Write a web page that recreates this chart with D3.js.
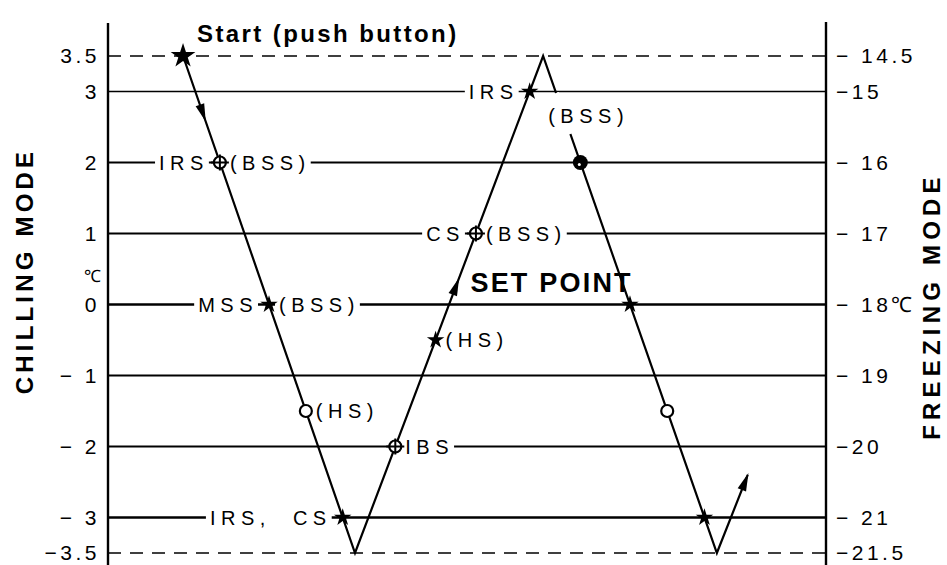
<!DOCTYPE html>
<html>
<head>
<meta charset="utf-8">
<script src="https://cdn.jsdelivr.net/npm/d3@7"></script>
<style>
  body { margin: 0; background: #fff; }
  text { font-family: "Liberation Sans", Arial, sans-serif; fill: #000; }
</style>
</head>
<body>
<div id="chart"></div>
<script>
var svgWidth = 947;
var svgHeight = 565;

// temperature levels (chilling mode, deg C) and matching freezing mode labels
var chillTicks = [3.5, 3, 2, 1, 0, -1, -2, -3, -3.5];
var chillLabels = ["3.5", "3", "2", "1", "0", "\u2212 1", "\u2212 2", "\u2212 3", "\u22123.5"];
var freezeLabels = ["\u2212 14.5", "\u221215", "\u2212 16", "\u2212 17", "\u2212 18\u2103", "\u2212 19", "\u221220", "\u2212 21", "\u221221.5"];

// temperature profile: time (arbitrary units 0-100) and level
var profileT = [10.45, 34.4, 60.6, 84.8, 89.1];
var profileV = [3.5, -3.5, 3.5, -3.5, -2.4];

// events along the profile: segment index, level, marker, labels
var eventSeg = [0, 0, 0, 0, 0, 1, 1, 1, 1, 2, 2, 2, 2];
var eventV = [3.5, 2, 0, -1.5, -3, -2, -0.5, 1, 3, 2, 0, -1.5, -3];
var eventType = ["start", "cross", "star", "circle", "star", "cross", "star", "cross", "star", "dot", "star", "circle", "star"];
var eventLeft = ["", "IRS", "MSS", "", "IRS,\u00a0\u00a0CS", "", "", "CS", "IRS", "", "", "", ""];
var eventRight = ["", "(BSS)", "(BSS)", "(HS)", "", "IBS", "(HS)", "(BSS)", "", "", "", "", ""];

// arrowheads: segment index and level
var arrowSeg = [0, 1, 3];
var arrowV = [2.6, 0.35, -2.4];

var svg = d3.select("#chart")
  .append("svg")
  .attr("width", svgWidth)
  .attr("height", svgHeight);

var x = d3.scaleLinear().domain([0, 100]).range([108, 826]);
var y = d3.scaleLinear().domain([-3.5, 3.5]).range([553, 56]);

function tOnSeg(s, v) {
  var t0 = profileT[s], t1 = profileT[s + 1];
  var v0 = profileV[s], v1 = profileV[s + 1];
  return t0 + (v - v0) / (v1 - v0) * (t1 - t0);
}

var gridLayer = svg.append("g");
var bgLayer = svg.append("g");
var lineLayer = svg.append("g");
var textLayer = svg.append("g");

// horizontal level lines
gridLayer.selectAll("line")
  .data(chillTicks)
  .enter()
  .append("line")
  .attr("x1", x(0))
  .attr("x2", x(100))
  .attr("y1", d => y(d))
  .attr("y2", d => y(d))
  .attr("stroke", "#000")
  .attr("stroke-width", d => Math.abs(d) === 3.5 ? 1.6 : (d === 0 || d === -3 ? 2.6 : (d === 3 ? 1.5 : 2)))
  .attr("stroke-dasharray", d => Math.abs(d) === 3.5 ? "13,9" : null);

// axes
var leftAxis = d3.axisLeft(y)
  .tickValues(chillTicks)
  .tickSize(0)
  .tickPadding(8)
  .tickFormat((d, i) => chillLabels[i]);

var rightAxis = d3.axisRight(y)
  .tickValues(chillTicks)
  .tickSize(0)
  .tickPadding(10)
  .tickFormat((d, i) => freezeLabels[i]);

var gl = svg.append("g")
  .attr("transform", `translate(${x(0)},0)`)
  .call(leftAxis);
var gr = svg.append("g")
  .attr("transform", `translate(${x(100)},0)`)
  .call(rightAxis);

[gl, gr].forEach(function(g) {
  g.select(".domain").remove();
  g.selectAll("text")
    .attr("font-size", 21)
    .attr("letter-spacing", 3.5)
    .attr("font-family", "Liberation Sans, Arial, sans-serif");
});

// axis lines run past the dashed limits
svg.append("line")
  .attr("x1", x(0)).attr("x2", x(0))
  .attr("y1", 23).attr("y2", svgHeight)
  .attr("stroke", "#000").attr("stroke-width", 2.4);
svg.append("line")
  .attr("x1", x(100)).attr("x2", x(100))
  .attr("y1", 22).attr("y2", svgHeight)
  .attr("stroke", "#000").attr("stroke-width", 2.4);

// degree sign above the 0 level
svg.append("text")
  .attr("x", x(0) - 7)
  .attr("y", y(0.4))
  .attr("text-anchor", "end")
  .attr("dominant-baseline", "central")
  .attr("font-size", 17)
  .text("\u2103");

// axis titles
svg.append("text")
  .attr("transform", `translate(24,271) rotate(-90)`)
  .attr("text-anchor", "middle")
  .attr("dominant-baseline", "central")
  .attr("font-size", 24)
  .attr("font-weight", "bold")
  .attr("letter-spacing", 4.2)
  .text("CHILLING MODE");

svg.append("text")
  .attr("transform", `translate(931,306) rotate(-90)`)
  .attr("text-anchor", "middle")
  .attr("dominant-baseline", "central")
  .attr("font-size", 24)
  .attr("font-weight", "bold")
  .attr("letter-spacing", 5.2)
  .text("FREEZING MODE");

// labels with a white patch that breaks the level lines
function addLabel(px, py, str, anchor, opts) {
  opts = opts || {};
  var t = textLayer.append("text")
    .attr("x", px)
    .attr("y", py)
    .attr("text-anchor", anchor)
    .attr("dominant-baseline", "central")
    .attr("font-size", opts.size || 20)
    .attr("font-weight", opts.weight || "normal")
    .attr("letter-spacing", opts.spacing == null ? 5.5 : opts.spacing)
    .text(str);
  var bb = t.node().getBBox();
  bgLayer.append("rect")
    .attr("x", bb.x - 4)
    .attr("y", bb.y + 2)
    .attr("width", bb.width + 4)
    .attr("height", bb.height - 4)
    .attr("fill", "#fff");
  return t;
}

eventV.forEach(function(v, i) {
  var px = x(tOnSeg(eventSeg[i], v));
  var py = y(v);
  if (eventLeft[i]) addLabel(px - 11, py, eventLeft[i], "end");
  if (eventRight[i]) addLabel(px + 10, py, eventRight[i], "start");
});

// free labels
addLabel(x(tOnSeg(2, 2.65)) - 16, y(2.65), "(BSS)", "start");
addLabel(x(tOnSeg(1, 0.35)) + 12, y(0.3), "SET POINT", "start", {size: 27, weight: "bold", spacing: 2.2});
svg.append("text")
  .attr("x", 197)
  .attr("y", 33)
  .attr("dominant-baseline", "central")
  .attr("font-size", 24)
  .attr("font-weight", "bold")
  .attr("letter-spacing", 2.4)
  .text("Start (push button)");

// temperature profile
var line = d3.line()
  .x((d, i) => x(profileT[i]))
  .y(d => y(d));

lineLayer.append("path")
  .attr("d", line(profileV))
  .attr("fill", "none")
  .attr("stroke", "#000")
  .attr("stroke-width", 2.2)
  .attr("stroke-linejoin", "miter");

// white gap on the falling line for the (BSS) note
var bssTop = 2.98, bssBottom = 2.4;
lineLayer.append("line")
  .attr("x1", x(tOnSeg(2, bssTop))).attr("y1", y(bssTop))
  .attr("x2", x(tOnSeg(2, bssBottom))).attr("y2", y(bssBottom))
  .attr("stroke", "#fff")
  .attr("stroke-width", 6);

// arrowheads
arrowV.forEach(function(v, i) {
  var s = arrowSeg[i];
  var dx = x(profileT[s + 1]) - x(profileT[s]);
  var dy = y(profileV[s + 1]) - y(profileV[s]);
  var ang = Math.atan2(dy, dx) * 180 / Math.PI;
  lineLayer.append("path")
    .attr("d", "M2,0 L-16,-4.5 L-16,4.5 Z")
    .attr("transform", `translate(${x(tOnSeg(s, v))},${y(v)}) rotate(${ang})`)
    .attr("fill", "#000");
});

// event markers
var star = d3.symbol().type(d3.symbolStar);
eventV.forEach(function(v, i) {
  var px = x(tOnSeg(eventSeg[i], v));
  var py = y(v);
  var g = lineLayer.append("g").attr("transform", `translate(${px},${py})`);
  var type = eventType[i];
  if (type === "start") {
    g.append("path").attr("d", star.size(190)()).attr("fill", "#000");
  } else if (type === "star") {
    g.append("path").attr("d", star.size(95)()).attr("fill", "#000");
  } else if (type === "circle" || type === "cross") {
    g.append("circle").attr("r", 6)
      .attr("fill", "#fff").attr("stroke", "#000").attr("stroke-width", 2.2);
    if (type === "cross") {
      g.append("path").attr("d", "M-9,0H9M0,-8V8")
        .attr("stroke", "#000").attr("stroke-width", 2);
    }
  } else if (type === "dot") {
    g.append("circle").attr("r", 7.5).attr("fill", "#000");
    g.append("circle").attr("r", 1.5).attr("cx", -1).attr("cy", 2).attr("fill", "#fff");
  }
});
</script>
</body>
</html>
